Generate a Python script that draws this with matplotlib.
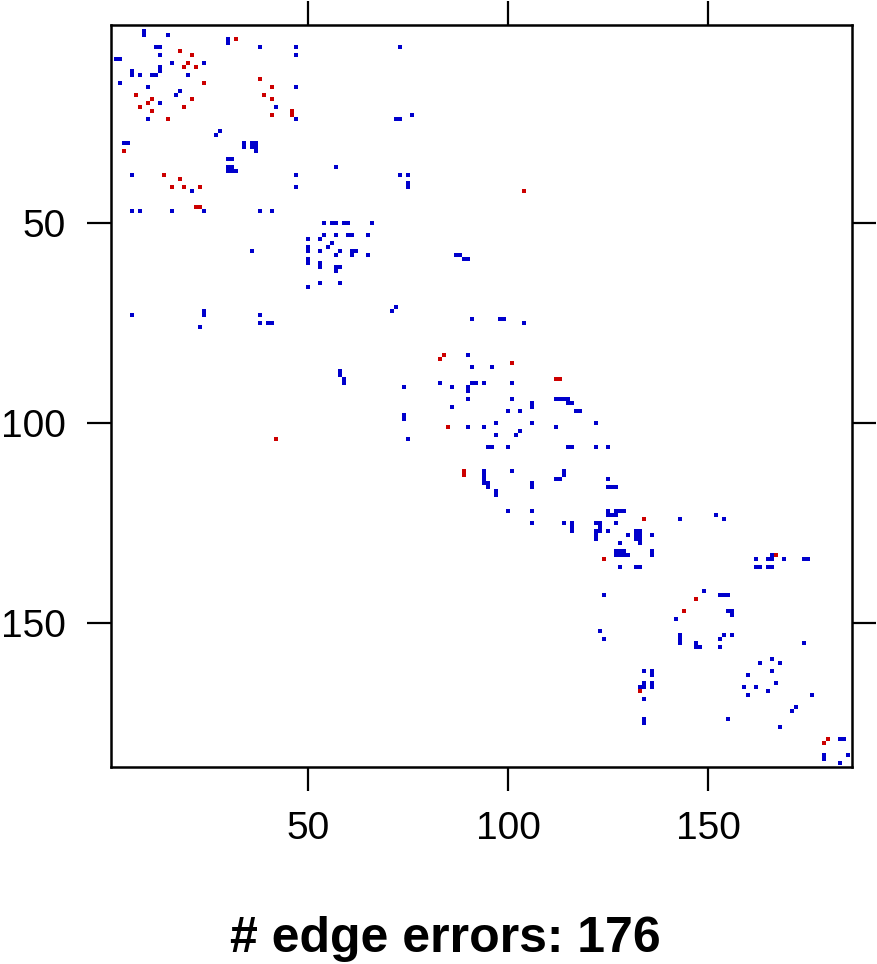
import numpy as np
import matplotlib
matplotlib.use("Agg")
import matplotlib.pyplot as plt

# upper triangle of the symmetric edge-error matrix, (row, col)
red_cells = [
    (4, 32), (7, 18), (8, 21), (10, 20), (11, 19), (11, 22), (15, 24), (14, 38),
    (16, 41), (18, 39), (19, 21), (19, 41), (22, 46), (23, 46), (23, 41), (42, 104),
    (83, 84), (85, 101), (89, 112), (89, 113), (124, 134), (133, 167), (144, 147),
    (179, 180),
]
blue_cells = [
    (2, 9), (3, 9), (3, 15), (4, 30), (5, 30), (6, 38), (6, 47), (8, 47), (6, 73),
    (6, 12), (6, 13), (8, 13), (10, 16), (10, 24), (11, 13), (12, 13), (13, 20),
    (16, 47), (17, 18), (21, 42), (24, 47), (24, 72), (24, 73), (23, 76), (27, 28),
    (30, 34), (31, 34), (30, 36), (30, 37), (31, 36), (31, 37), (32, 37), (36, 57),
    (38, 47), (38, 73), (38, 75), (40, 75), (41, 75), (41, 47),
    (50, 54), (50, 56), (50, 57), (50, 59), (50, 60), (50, 66), (53, 54), (53, 57),
    (53, 60), (53, 61), (53, 65), (55, 56), (57, 58), (57, 61), (57, 62), (58, 61),
    (58, 65), (58, 87), (58, 88), (59, 89), (59, 90),
    (71, 72), (74, 91), (74, 98), (74, 99), (75, 104), (83, 90), (86, 91), (86, 96),
    (90, 91), (90, 92), (90, 94), (90, 101), (94, 101), (94, 112), (94, 113),
    (94, 114), (94, 115), (95, 115), (95, 116), (95, 106), (96, 106), (97, 100),
    (97, 103), (97, 117), (97, 118), (100, 106), (100, 122), (101, 112), (102, 103),
    (106, 115), (106, 116), (106, 122), (112, 114), (113, 114), (106, 125),
    (114, 125), (116, 125), (116, 126), (116, 127), (124, 143), (123, 152), (124, 154),
    (125, 127), (128, 130), (127, 132), (127, 133), (128, 132), (128, 133), (129, 132),
    (129, 133), (130, 133), (128, 136), (132, 136), (133, 136), (122, 125), (122, 127),
    (122, 128), (122, 129), (123, 125), (123, 126), (123, 127), (134, 162), (134, 165),
    (134, 166), (133, 166), (134, 169), (134, 174), (134, 175), (136, 162), (136, 163),
    (136, 165), (136, 166), (142, 149), (143, 153), (143, 154), (143, 155), (147, 155),
    (147, 156), (148, 156), (153, 154), (153, 156), (155, 174), (159, 166), (160, 163),
    (160, 168), (162, 166), (165, 167), (168, 176), (171, 172), (179, 183), (179, 184),
    (183, 185),
]
x_ticks = [50, 100, 150]
y_ticks = [50, 100, 150]
n_errors = len(red_cells) + len(blue_cells)

W, H = 878, 964
fig = plt.figure(figsize=(W / 100, H / 100), dpi=100)
ax = fig.add_axes([110.5 / W, 1 - 767 / H, (852 - 110.5) / W, (767 - 25) / H])

for cells, col in [(blue_cells, '#0000CC'), (red_cells, '#CC0000')]:
    arr = np.array(cells)
    rows = np.concatenate([arr[:, 0], arr[:, 1]])
    cols = np.concatenate([arr[:, 1], arr[:, 0]])
    ax.scatter(cols, rows, s=5.5, marker='s', color=col, linewidths=0)

ax.set_xlim(0.5, 185.9)
ax.set_ylim(186, 0.5)
ax.set_xticks(x_ticks)
ax.set_yticks(y_ticks)
ax.tick_params(direction='out', length=17, width=1.6, top=True, right=True,
               labelsize=28, pad=15)
for lab in ax.get_xticklabels() + ax.get_yticklabels():
    lab.set_family('Liberation Sans')
for s in ax.spines.values():
    s.set_linewidth(1.8)

fig.text(445 / W, 1 - 952 / H, f"# edge errors: {n_errors}", ha='center',
         va='baseline', fontsize=36, fontweight='bold', family='Liberation Sans')

fig.savefig('out.png', dpi=100)
